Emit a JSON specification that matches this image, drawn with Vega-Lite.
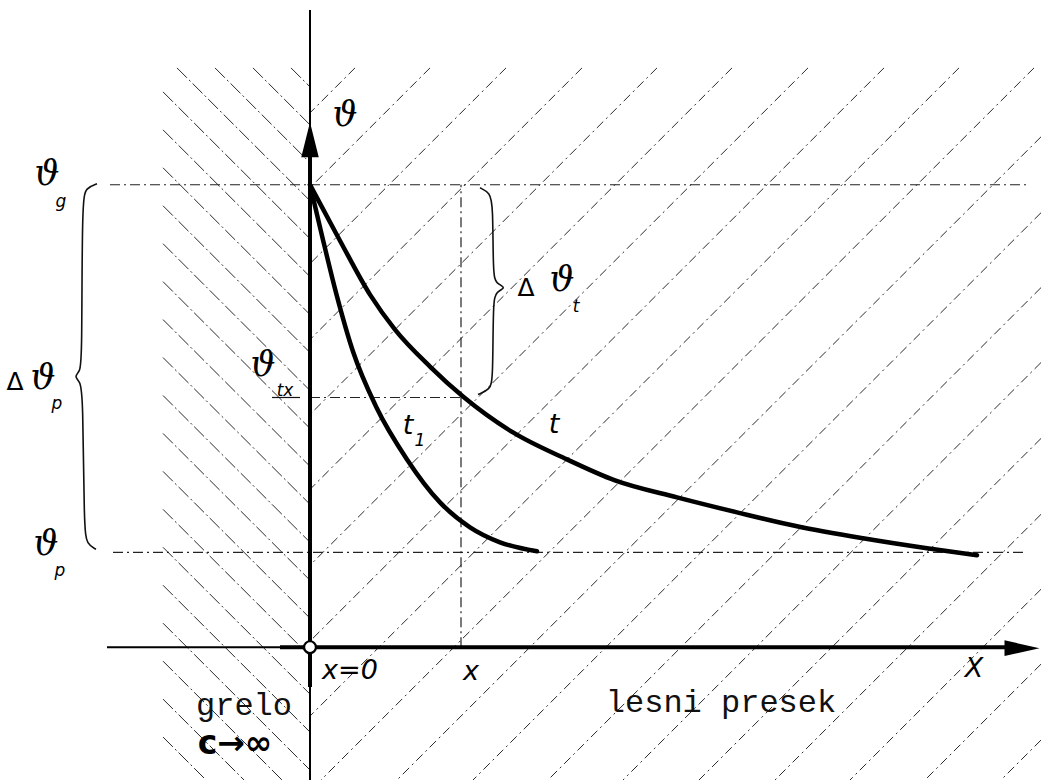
{
  "$schema": "https://vega.github.io/schema/vega-lite/v6.json",
  "width": 1041,
  "height": 781,
  "autosize": {"type": "fit", "contains": "padding"},
  "padding": 0,
  "background": "white",
  "config": {"view": {"stroke": null}},
  "datasets": {
    "hatchLeft": [
      {"X": -19, "Y": 580, "X2": 0, "Y2": 561},
      {"X": -57, "Y": 580, "X2": 0, "Y2": 523},
      {"X": -95, "Y": 580, "X2": 0, "Y2": 485},
      {"X": -133, "Y": 580, "X2": 0, "Y2": 447},
      {"X": -147, "Y": 556, "X2": 0, "Y2": 409},
      {"X": -147, "Y": 518, "X2": 0, "Y2": 371},
      {"X": -147, "Y": 480, "X2": 0, "Y2": 333},
      {"X": -147, "Y": 442, "X2": 0, "Y2": 295},
      {"X": -147, "Y": 404, "X2": 0, "Y2": 257},
      {"X": -147, "Y": 366, "X2": 0, "Y2": 219},
      {"X": -147, "Y": 328, "X2": 0, "Y2": 181},
      {"X": -147, "Y": 290, "X2": 0, "Y2": 143},
      {"X": -147, "Y": 252, "X2": 0, "Y2": 105},
      {"X": -147, "Y": 214, "X2": 0, "Y2": 67},
      {"X": -147, "Y": 176, "X2": 0, "Y2": 29},
      {"X": -147, "Y": 138, "X2": 0, "Y2": -9},
      {"X": -147, "Y": 100, "X2": 0, "Y2": -47},
      {"X": -147, "Y": 62, "X2": 0, "Y2": -85},
      {"X": -147, "Y": 24, "X2": 0, "Y2": -123},
      {"X": -147, "Y": -14, "X2": -28, "Y2": -133},
      {"X": -147, "Y": -52, "X2": -66, "Y2": -133},
      {"X": -147, "Y": -90, "X2": -104, "Y2": -133}
    ],
    "hatchRight": [
      {"X": 45, "Y": 580, "X2": 0, "Y2": 535},
      {"X": 120, "Y": 580, "X2": 0, "Y2": 460},
      {"X": 196, "Y": 580, "X2": 0, "Y2": 384},
      {"X": 272, "Y": 580, "X2": 0, "Y2": 308},
      {"X": 347, "Y": 580, "X2": 0, "Y2": 233},
      {"X": 422, "Y": 580, "X2": 0, "Y2": 158},
      {"X": 498, "Y": 580, "X2": 0, "Y2": 82},
      {"X": 574, "Y": 580, "X2": 0, "Y2": 6},
      {"X": 649, "Y": 580, "X2": 0, "Y2": -69},
      {"X": 724, "Y": 580, "X2": 11, "Y2": -133},
      {"X": 731, "Y": 511, "X2": 87, "Y2": -133},
      {"X": 731, "Y": 435, "X2": 163, "Y2": -133},
      {"X": 731, "Y": 360, "X2": 238, "Y2": -133},
      {"X": 731, "Y": 285, "X2": 313, "Y2": -133},
      {"X": 731, "Y": 209, "X2": 389, "Y2": -133},
      {"X": 731, "Y": 133, "X2": 465, "Y2": -133},
      {"X": 731, "Y": 58, "X2": 540, "Y2": -133},
      {"X": 731, "Y": -17, "X2": 615, "Y2": -133},
      {"X": 731, "Y": -93, "X2": 691, "Y2": -133}
    ],
    "guides": [
      {"X": -200, "Y": 463, "X2": 720, "Y2": 463},
      {"X": -197, "Y": 95, "X2": 717, "Y2": 95},
      {"X": 151, "Y": 0, "X2": 151, "Y2": 463},
      {"X": 0, "Y": 250, "X2": 151, "Y2": 250}
    ],
    "tick": [
      {"X": -38, "Y": 250, "X2": -10, "Y2": 250}
    ],
    "axesThin": [
      {"X": 0, "Y": 638, "X2": 0, "Y2": -133},
      {"X": -203, "Y": 0, "X2": -30, "Y2": 0}
    ],
    "axesThick": [
      {"X": 0, "Y": 518, "X2": 0, "Y2": -40},
      {"X": -30, "Y": 0, "X2": 700, "Y2": 0}
    ],
    "curves": [
      {"curve": "t1", "X": 0, "Y": 463},
      {"curve": "t1", "X": 12, "Y": 412},
      {"curve": "t1", "X": 26, "Y": 355},
      {"curve": "t1", "X": 43, "Y": 296},
      {"curve": "t1", "X": 66, "Y": 241},
      {"curve": "t1", "X": 97, "Y": 188},
      {"curve": "t1", "X": 130, "Y": 145},
      {"curve": "t1", "X": 160, "Y": 120},
      {"curve": "t1", "X": 190, "Y": 105},
      {"curve": "t1", "X": 227, "Y": 96},
      {"curve": "t", "X": 0, "Y": 463},
      {"curve": "t", "X": 30, "Y": 407},
      {"curve": "t", "X": 60, "Y": 353},
      {"curve": "t", "X": 85, "Y": 318},
      {"curve": "t", "X": 120, "Y": 281},
      {"curve": "t", "X": 153, "Y": 251},
      {"curve": "t", "X": 203, "Y": 215},
      {"curve": "t", "X": 257, "Y": 188},
      {"curve": "t", "X": 305, "Y": 167},
      {"curve": "t", "X": 367, "Y": 150},
      {"curve": "t", "X": 427, "Y": 135},
      {"curve": "t", "X": 487, "Y": 121},
      {"curve": "t", "X": 553, "Y": 109},
      {"curve": "t", "X": 617, "Y": 99},
      {"curve": "t", "X": 667, "Y": 92}
    ],
    "braces": [
      {"brace": "p", "i": 0, "X": -213, "Y": 464},
      {"brace": "p", "i": 1, "X": -224, "Y": 460},
      {"brace": "p", "i": 2, "X": -228, "Y": 448},
      {"brace": "p", "i": 3, "X": -228, "Y": 288},
      {"brace": "p", "i": 4, "X": -230, "Y": 276},
      {"brace": "p", "i": 5, "X": -236, "Y": 271},
      {"brace": "p", "i": 6, "X": -230, "Y": 266},
      {"brace": "p", "i": 7, "X": -227, "Y": 254},
      {"brace": "p", "i": 8, "X": -226, "Y": 118},
      {"brace": "p", "i": 9, "X": -223, "Y": 103},
      {"brace": "p", "i": 10, "X": -214, "Y": 98},
      {"brace": "t", "i": 0, "X": 170, "Y": 460},
      {"brace": "t", "i": 1, "X": 180, "Y": 455},
      {"brace": "t", "i": 2, "X": 183, "Y": 443},
      {"brace": "t", "i": 3, "X": 183, "Y": 373},
      {"brace": "t", "i": 4, "X": 186, "Y": 364},
      {"brace": "t", "i": 5, "X": 197, "Y": 360},
      {"brace": "t", "i": 6, "X": 186, "Y": 356},
      {"brace": "t", "i": 7, "X": 183, "Y": 346},
      {"brace": "t", "i": 8, "X": 183, "Y": 268},
      {"brace": "t", "i": 9, "X": 180, "Y": 258},
      {"brace": "t", "i": 10, "X": 168, "Y": 253}
    ],
    "origin": [{"X": 0, "Y": 0}],
    "arrowUp": [{"X": 0, "Y": 508}],
    "arrowRight": [{"X": 712, "Y": -1}],
    "greek": [
      {"X": 35, "Y": 533, "label": "ϑ"},
      {"X": -263, "Y": 474, "label": "ϑ"},
      {"X": -267, "Y": 270, "label": "ϑ"},
      {"X": -264, "Y": 103, "label": "ϑ"},
      {"X": -47, "Y": 283, "label": "ϑ"},
      {"X": 252, "Y": 368, "label": "ϑ"}
    ],
    "deltas": [
      {"X": -295, "Y": 266, "label": "Δ"},
      {"X": 216, "Y": 360, "label": "Δ"}
    ],
    "subscripts": [
      {"X": -249, "Y": 446, "label": "g"},
      {"X": -253, "Y": 243, "label": "p"},
      {"X": -250, "Y": 76, "label": "p"},
      {"X": -25, "Y": 256, "label": "tx"},
      {"X": 266, "Y": 341, "label": "t"},
      {"X": 110, "Y": 206, "label": "1"}
    ],
    "italics": [
      {"X": 98, "Y": 221, "label": "t"},
      {"X": 244, "Y": 222, "label": "t"},
      {"X": 40, "Y": -24, "label": "x=0"},
      {"X": 161, "Y": -25, "label": "x"},
      {"X": 664, "Y": -22, "label": "X"}
    ],
    "words": [
      {"X": -66, "Y": -58, "label": "grelo"},
      {"X": 411, "Y": -55, "label": "lesni presek"}
    ],
    "limit": [
      {"X": -75, "Y": -97, "label": "c→∞"}
    ]
  },
  "encoding": {
    "x": {"field": "X", "type": "quantitative", "scale": {"domain": [-310, 731], "nice": false, "zero": false}, "axis": null},
    "y": {"field": "Y", "type": "quantitative", "scale": {"domain": [-133, 648], "nice": false, "zero": false}, "axis": null}
  },
  "layer": [
    {
      "data": {"name": "hatchLeft"},
      "mark": {"type": "rule", "color": "#2a2a2a", "strokeWidth": 1, "strokeDash": [14, 3, 2, 3], "clip": true},
      "encoding": {"x2": {"field": "X2"}, "y2": {"field": "Y2"}}
    },
    {
      "data": {"name": "hatchRight"},
      "mark": {"type": "rule", "color": "#2a2a2a", "strokeWidth": 1, "strokeDash": [9, 4, 2, 4], "clip": true},
      "encoding": {"x2": {"field": "X2"}, "y2": {"field": "Y2"}}
    },
    {
      "data": {"name": "guides"},
      "mark": {"type": "rule", "color": "#222", "strokeWidth": 1.2, "strokeDash": [10, 4, 2, 4]},
      "encoding": {"x2": {"field": "X2"}, "y2": {"field": "Y2"}}
    },
    {
      "data": {"name": "tick"},
      "mark": {"type": "rule", "color": "#111", "strokeWidth": 1.2},
      "encoding": {"x2": {"field": "X2"}, "y2": {"field": "Y2"}}
    },
    {
      "data": {"name": "axesThin"},
      "mark": {"type": "rule", "color": "#000", "strokeWidth": 2},
      "encoding": {"x2": {"field": "X2"}, "y2": {"field": "Y2"}}
    },
    {
      "data": {"name": "axesThick"},
      "mark": {"type": "rule", "color": "#000", "strokeWidth": 4},
      "encoding": {"x2": {"field": "X2"}, "y2": {"field": "Y2"}}
    },
    {
      "data": {"name": "curves"},
      "mark": {"type": "line", "color": "#000", "strokeWidth": 4.5, "interpolate": "monotone", "strokeCap": "round"},
      "encoding": {"detail": {"field": "curve"}}
    },
    {
      "data": {"name": "braces"},
      "mark": {"type": "line", "color": "#111", "strokeWidth": 1.6, "interpolate": "basis"},
      "encoding": {"detail": {"field": "brace"}, "order": {"field": "i", "type": "quantitative"}}
    },
    {
      "data": {"name": "arrowUp"},
      "mark": {"type": "point", "shape": "M0,-1L0.5,1L-0.5,1Z", "size": 1225, "filled": true, "color": "#000", "opacity": 1}
    },
    {
      "data": {"name": "arrowRight"},
      "mark": {"type": "point", "shape": "M1,0L-1,-0.45L-1,0.45Z", "size": 1225, "filled": true, "color": "#000", "opacity": 1}
    },
    {
      "data": {"name": "origin"},
      "mark": {"type": "point", "shape": "circle", "size": 140, "filled": true, "fill": "white", "stroke": "#000", "strokeWidth": 2.2, "opacity": 1}
    },
    {
      "data": {"name": "greek"},
      "mark": {"type": "text", "font": "DejaVu Serif", "fontStyle": "italic", "fontSize": 35, "align": "center", "baseline": "middle", "color": "#000"},
      "encoding": {"text": {"field": "label"}}
    },
    {
      "data": {"name": "deltas"},
      "mark": {"type": "text", "font": "DejaVu Sans", "fontSize": 25, "align": "center", "baseline": "middle", "color": "#000"},
      "encoding": {"text": {"field": "label"}}
    },
    {
      "data": {"name": "subscripts"},
      "mark": {"type": "text", "font": "DejaVu Sans", "fontStyle": "italic", "fontSize": 17, "align": "center", "baseline": "middle", "color": "#000"},
      "encoding": {"text": {"field": "label"}}
    },
    {
      "data": {"name": "italics"},
      "mark": {"type": "text", "font": "DejaVu Sans", "fontStyle": "italic", "fontSize": 27, "align": "center", "baseline": "middle", "color": "#000"},
      "encoding": {"text": {"field": "label"}}
    },
    {
      "data": {"name": "words"},
      "mark": {"type": "text", "font": "Liberation Mono", "fontSize": 32, "align": "center", "baseline": "middle", "color": "#111"},
      "encoding": {"text": {"field": "label"}}
    },
    {
      "data": {"name": "limit"},
      "mark": {"type": "text", "font": "DejaVu Sans", "fontWeight": "bold", "fontSize": 33, "align": "center", "baseline": "middle", "color": "#000"},
      "encoding": {"text": {"field": "label"}}
    }
  ]
}
